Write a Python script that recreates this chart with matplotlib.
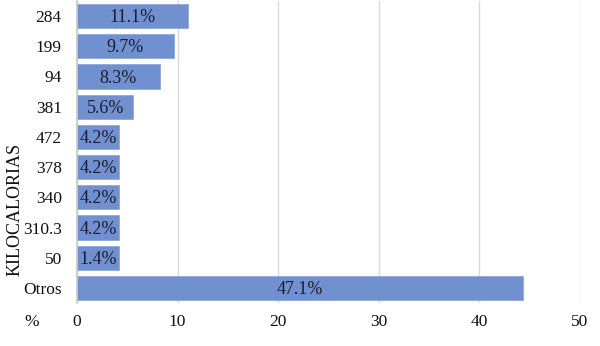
import matplotlib
matplotlib.use("Agg")
import matplotlib.pyplot as plt

categories = ["284", "199", "94", "381", "472", "378", "340", "310.3", "50", "Otros"]
values = [11.0, 9.6, 8.25, 5.6, 4.2, 4.2, 4.2, 4.2, 4.2, 44.3]
labels = ["11.1%", "9.7%", "8.3%", "5.6%", "4.2%", "4.2%", "4.2%", "4.2%", "1.4%", "47.1%"]
xticks = [0, 10, 20, 30, 40, 50]

plt.rcParams['font.family'] = ['Liberation Serif', 'DejaVu Serif']
FS = 12.5

fig = plt.figure(figsize=(6, 3.46), dpi=100)
ax = fig.add_axes([77/600, 1-303/346, (580-77)/600, 302/346])

ypos = list(range(len(categories)))
ax.barh(ypos, values, height=0.8, color='#7190cf', edgecolor='#8fa8dc', linewidth=0.6, zorder=2)
for y, v, lab in zip(ypos, values, labels):
    ax.text(v/2, y + 0.05, lab, ha='center', va='center', fontsize=13, color='#1c1c30', zorder=3)

ax.set_ylim(len(categories)-0.5, -0.5)
ax.set_xlim(0, 50)
ax.set_xticks(xticks)
ax.set_yticks(ypos)
ax.set_yticklabels(categories)
ax.tick_params(axis='both', length=0, labelsize=FS, colors='#111111')
ax.tick_params(axis='x', pad=8)
ax.tick_params(axis='y', pad=11)
ax.xaxis.grid(True, color='#d9d9d9', linewidth=1, zorder=0)
ax.set_axisbelow(True)
for s in ['top', 'right', 'bottom']:
    ax.spines[s].set_visible(False)
ax.spines['left'].set_color('#c8c8c8')
ax.spines['left'].set_linewidth(1.2)

fig.text(15/600, 1-209/346, "KILOCALORIAS", rotation=90, ha='center', va='center', fontsize=13, color='#111111')
fig.text(32/600, 1-322/346, "%", ha='center', va='center', fontsize=FS, color='#111111')

fig.savefig("out.png", dpi=100)
